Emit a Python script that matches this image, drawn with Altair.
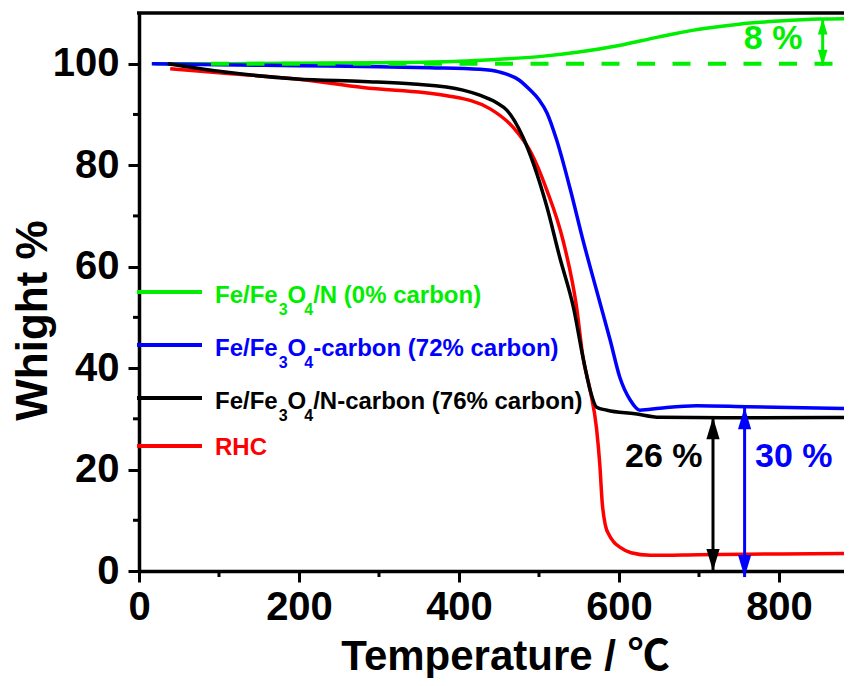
import altair as alt
import pandas as pd

# ---------------- data ----------------
series_names = ["Fe/Fe3O4/N (0% carbon)", "RHC", "Fe/Fe3O4-carbon (72% carbon)", "Fe/Fe3O4/N-carbon (76% carbon)"]
series_colors = ["#00ee00", "#ff0000", "#0000ff", "#000000"]

green_T = [20, 100, 200, 300, 400, 450, 500, 550, 600, 650, 700, 750, 800, 850, 900]
green_W = [100.0, 100.0, 100.1, 100.2, 100.5, 100.9, 101.4, 102.3, 103.6, 105.3, 106.8, 107.8, 108.4, 108.8, 108.9]

red_T = [39, 100, 197, 280, 385, 439, 468, 490, 510, 530, 547, 555, 564, 572, 576, 579, 583, 588, 593, 601, 615, 639, 700, 760, 900]
red_W = [99.0, 98.2, 97.0, 95.3, 93.7, 91.1, 87.4, 82.5, 75.0, 65.2, 52.0, 42.1, 35.6, 28.0, 21.0, 13.5, 9.0, 7.0, 5.8, 4.7, 3.6, 3.1, 3.2, 3.3, 3.5]

blue_T = [16, 100, 200, 300, 364, 426, 450, 475, 489, 500, 510, 522, 539, 555, 572, 589, 601, 614, 626, 651, 697, 760, 900]
blue_W = [100.0, 99.8, 99.6, 99.4, 99.2, 98.9, 98.4, 96.8, 94.8, 92.9, 90.3, 85.0, 75.3, 65.2, 55.3, 45.5, 38.2, 33.7, 31.7, 32.1, 32.6, 32.4, 32.0]

black_T = [36, 100, 197, 280, 343, 405, 426, 447, 460, 480, 493, 510, 526, 543, 555, 564, 572, 585, 620, 651, 760, 900]
black_W = [100.0, 98.5, 97.0, 96.5, 96.0, 94.8, 93.8, 92.3, 90.8, 85.5, 80.3, 71.7, 61.8, 52.0, 42.1, 35.6, 32.3, 31.7, 31.0, 30.3, 30.2, 30.3]

# reference dashed line at 100 %
ref_T = [90, 900]
ref_W = [100, 100]

# double arrows (mass-change annotations)
arrow_T = [717.5, 757, 854.6]
arrow_lo = [0.0, -1.2, 99.6]
arrow_hi = [30.3, 32.3, 108.9]
arrow_colors = ["#000000", "#0000ff", "#00ee00"]

ann_text = ["26 %", "30 %", "8 %"]
ann_T = [607.5, 770, 756]
ann_W = [22.4, 22.4, 104.8]
ann_colors = ["#000000", "#0000ff", "#00ee00"]

x_ticks = [0, 200, 400, 600, 800]
x_minor = [100, 300, 500, 700]
y_ticks = [0, 20, 40, 60, 80, 100]
y_minor = [10, 30, 50, 70, 90]

# legend rows: list of (segment text, is_subscript)
legend_rows = [
    [("Fe/Fe", 0), ("3", 1), ("O", 0), ("4", 1), ("/N (0% carbon)", 0)],
    [("Fe/Fe", 0), ("3", 1), ("O", 0), ("4", 1), ("-carbon (72% carbon)", 0)],
    [("Fe/Fe", 0), ("3", 1), ("O", 0), ("4", 1), ("/N-carbon (76% carbon)", 0)],
    [("RHC", 0)],
]
legend_colors = ["#00ee00", "#0000ff", "#000000", "#ff0000"]

# ---------------- layout ----------------
W, H = 705, 558
XMAX = 881.25
FONT = "Liberation Sans, Arial, sans-serif"
LEG_LINE_PY = [279, 332, 385, 433]
LEG_TEXT_PY = [289.5, 342.5, 395.5, 442]
LEG_FS, SUB_FS = 24, 16

# Arial-bold advance widths (Liberation Sans is metric compatible)
ADV = {"F": .611, "e": .556, "/": .278, "O": .778, "N": .722, " ": .278, "(": .333, ")": .333,
       "%": .889, "c": .556, "a": .556, "r": .389, "b": .611, "o": .611, "n": .611, "-": .333,
       "R": .722, "H": .722, "C": .722}
def adv(s, fs):
    return sum(ADV.get(ch, .556) for ch in s) * fs

curve_rows = []
for name, Ts, Ws in zip(series_names, [green_T, red_T, blue_T, black_T], [green_W, red_W, blue_W, black_W]):
    for t, w in zip(Ts, Ws):
        curve_rows.append({"series": name, "T": t, "W": w})
curves = pd.DataFrame(curve_rows)

x_scale = alt.Scale(domain=[0, XMAX], nice=False, zero=False)
y_scale = alt.Scale(domain=[0, 110], nice=False, zero=False)

x_axis = alt.Axis(values=x_ticks, format="d", grid=False, labelFont=FONT, labelFontSize=40,
                  labelFontWeight="bold", labelColor="black", labelPadding=5, labelFlush=False,
                  labelOverlap=False, labelBound=False,
                  tickSize=11, tickWidth=3, tickColor="black", domainColor="black", domainWidth=3.5,
                  title="Temperature / ℃", titleFont="Liberation Sans, Noto Sans CJK SC", titleFontSize=42,
                  titleFontWeight="bold", titleColor="black", titleX=366, titleY=98,
                  titleBaseline="alphabetic", titleAlign="center")
y_axis = alt.Axis(values=y_ticks, format="d", grid=False, labelFont=FONT, labelFontSize=40,
                  labelFontWeight="bold", labelColor="black", labelPadding=9, labelFlush=False,
                  labelOverlap=False, labelBound=False,
                  tickSize=11, tickWidth=3, tickColor="black", domainColor="black", domainWidth=3.5,
                  title="Whight %", titleFont=FONT, titleFontSize=44, titleFontWeight="bold",
                  titleColor="black", titleAngle=270, titleX=-93, titleY=307,
                  titleBaseline="alphabetic", titleAlign="center")

lines = alt.Chart(curves).mark_line(strokeWidth=3.5, interpolate="monotone", clip=True).encode(
    x=alt.X("T:Q", scale=x_scale, axis=x_axis),
    y=alt.Y("W:Q", scale=y_scale, axis=y_axis),
    color=alt.Color("series:N", scale=alt.Scale(domain=series_names, range=series_colors), legend=None),
    detail="series:N",
)

ref_df = pd.DataFrame({"T": ref_T, "W": ref_W})
ref_line = alt.Chart(ref_df).mark_line(strokeWidth=4, strokeDash=[18, 17.5], color="#00ee00", clip=True).encode(
    x=alt.X("T:Q", scale=x_scale), y=alt.Y("W:Q", scale=y_scale))

arr_df = pd.DataFrame({"T": arrow_T, "lo": arrow_lo, "hi": arrow_hi, "col": arrow_colors,
                       "sz": [1936, 1936, 1024]})
shafts = alt.Chart(arr_df).mark_rule(strokeWidth=3).encode(
    x=alt.X("T:Q", scale=x_scale), y=alt.Y("lo:Q", scale=y_scale), y2="hi:Q",
    color=alt.Color("col:N", scale=None))
UP = "M0,0L-0.3,1L0.3,1Z"
DOWN = "M0,0L-0.3,-1L0.3,-1Z"
heads_up = alt.Chart(arr_df).mark_point(shape=UP, filled=True, opacity=1, strokeWidth=0).encode(
    x=alt.X("T:Q", scale=x_scale), y=alt.Y("hi:Q", scale=y_scale),
    color=alt.Color("col:N", scale=None), size=alt.Size("sz:Q", scale=None))
heads_down = alt.Chart(arr_df).mark_point(shape=DOWN, filled=True, opacity=1, strokeWidth=0).encode(
    x=alt.X("T:Q", scale=x_scale), y=alt.Y("lo:Q", scale=y_scale),
    color=alt.Color("col:N", scale=None), size=alt.Size("sz:Q", scale=None))

ann_df = pd.DataFrame({"text": ann_text, "T": ann_T, "W": ann_W, "col": ann_colors})
ann = alt.Chart(ann_df).mark_text(align="left", baseline="middle", font=FONT, fontSize=34,
                                  fontWeight="bold").encode(
    x=alt.X("T:Q", scale=x_scale), y=alt.Y("W:Q", scale=y_scale), text="text:N",
    color=alt.Color("col:N", scale=None))

minor_x = alt.Chart(pd.DataFrame({"T": x_minor})).mark_rule(strokeWidth=3, color="black").encode(
    x=alt.X("T:Q", scale=x_scale), y=alt.value(H), y2=alt.value(H + 6))
minor_y = alt.Chart(pd.DataFrame({"W": y_minor})).mark_rule(strokeWidth=3, color="black").encode(
    y=alt.Y("W:Q", scale=y_scale), x=alt.value(-6), x2=alt.value(0))
top_frame = alt.Chart(pd.DataFrame({"a": [0]})).mark_rule(strokeWidth=3.5, color="black").encode(
    x=alt.value(-2), x2=alt.value(W), y=alt.value(0))

# legend (drawn by hand inside the plot)
leg_line_df = pd.DataFrame({"py": LEG_LINE_PY, "col": legend_colors})
leg_lines = alt.Chart(leg_line_df).mark_rule(strokeWidth=4).encode(
    x=alt.value(-2), x2=alt.value(63), y=alt.Y("py:Q", scale=None), color=alt.Color("col:N", scale=None))

seg_rows = []
for row, col, py in zip(legend_rows, legend_colors, LEG_TEXT_PY):
    px = 76.0
    for text, sub in row:
        fs = SUB_FS if sub else LEG_FS
        if sub:
            px += 1
        seg_rows.append({"text": text, "px": px, "py": py + (12 if sub else 0), "fs": fs, "col": col})
        w = adv(text, fs)
        if text == "O":
            w -= 3
        px += w
leg_text = alt.Chart(pd.DataFrame(seg_rows)).mark_text(align="left", baseline="alphabetic", font=FONT,
                                                       fontWeight="bold").encode(
    x=alt.X("px:Q", scale=None), y=alt.Y("py:Q", scale=None), text="text:N",
    size=alt.Size("fs:Q", scale=None), color=alt.Color("col:N", scale=None))

chart = alt.layer(
    lines, ref_line, shafts, heads_up, heads_down, ann, minor_x, minor_y, top_frame, leg_lines, leg_text
).properties(
    width=W, height=H,
    padding={"left": 131, "top": 5, "right": 0, "bottom": 107},
    autosize=alt.AutoSizeParams(type="none"),
    background="white",
).configure_view(stroke=None)

chart.save("out.html", embed_options={"renderer": "svg", "actions": False})
